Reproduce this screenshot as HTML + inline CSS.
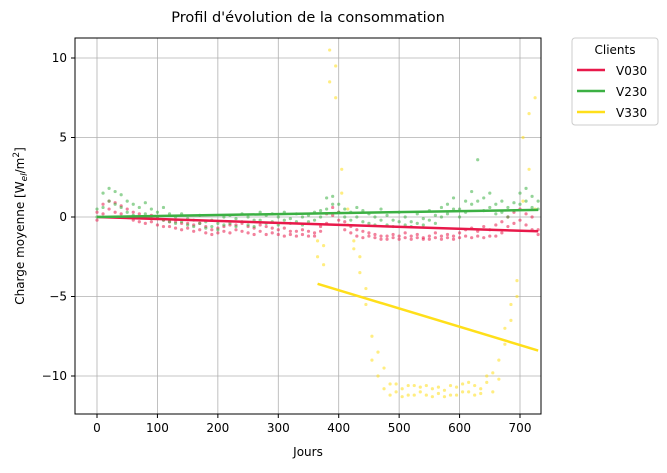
<!DOCTYPE html>
<html><head><meta charset="utf-8"><style>
body{margin:0;background:#fff;}
svg{font-family:"DejaVu Sans","Liberation Sans",sans-serif;}
</style></head><body>
<svg id="chart" width="667" height="468" viewBox="0 0 667 468" xmlns="http://www.w3.org/2000/svg">
<text x="308" y="22" text-anchor="middle" font-size="14.5">Profil d'évolution de la consommation</text>
<g id="grid"></g>
<g id="pts"></g>
<g id="trends"></g>
<rect x="75" y="38" width="466" height="376" fill="none" stroke="#000" stroke-width="1"/>
<g id="ticks" font-size="12"></g>
<text x="308" y="456" text-anchor="middle" font-size="12">Jours</text>
<text transform="translate(24,226) rotate(-90)" text-anchor="middle" font-size="12">Charge moyenne [W<tspan font-style="italic" font-size="9" dy="3">el</tspan><tspan dy="-3">/m</tspan><tspan font-size="9" dy="-5">2</tspan><tspan dy="5">]</tspan></text>
<g>
<rect x="572" y="38" width="86" height="87" rx="3" fill="#fff" stroke="#ccc"/>
<text x="615" y="54" text-anchor="middle" font-size="12">Clients</text>
<g><line x1="577" y1="70" x2="605" y2="70" stroke="#e8194a" stroke-width="2.5"/><text x="616" y="75" font-size="12">V030</text></g>
<g><line x1="577" y1="91" x2="605" y2="91" stroke="#3cb043" stroke-width="2.5"/><text x="616" y="96" font-size="12">V230</text></g>
<g><line x1="577" y1="112" x2="605" y2="112" stroke="#ffdf1a" stroke-width="2.5"/><text x="616" y="117" font-size="12">V330</text></g>
</g>
</svg>
<script>
const xTicks=[0,100,200,300,400,500,600,700];
const yTicks=[10,5,0,-5,-10];
const yTickLabels=["10","5","0","−5","−10"];
const daysMain=[0,10,20,30,40,50,60,70,80,90,100,110,120,130,140,150,160,170,180,190,200,210,220,230,240,250,260,270,280,290,300,310,320,330,340,350,360,370,380,390,400,410,420,430,440,450,460,470,480,490,500,510,520,530,540,550,560,570,580,590,600,610,620,630,640,650,660,670,680,690,700,710,720,730];
const v030a=[0.3,0.8,1.0,0.9,0.7,0.5,0.3,0.2,0.0,0.1,-0.1,-0.2,-0.3,-0.3,-0.4,-0.4,-0.5,-0.4,-0.6,-0.8,-0.7,-0.6,-0.5,-0.5,-0.4,-0.6,-0.7,-0.5,-0.6,-0.7,-0.8,-0.7,-0.9,-0.9,-0.8,-0.9,-1.0,-0.6,0.2,0.6,0.3,-0.3,-0.6,-0.8,-0.9,-1.0,-1.1,-1.2,-1.2,-1.1,-1.2,-1.0,-1.2,-1.1,-1.3,-1.2,-1.0,-1.2,-1.1,-1.2,-1.0,-0.8,-0.7,-0.9,-0.6,-0.8,-0.5,-0.3,0.0,0.3,0.5,0.2,0.0,-0.8];
const v030b=[-0.2,0.2,0.5,0.3,0.2,0.0,-0.2,-0.3,-0.4,-0.3,-0.5,-0.6,-0.6,-0.7,-0.8,-0.7,-0.9,-0.8,-1.0,-1.1,-1.0,-0.9,-1.0,-0.8,-0.9,-1.0,-1.1,-0.9,-1.1,-1.0,-1.1,-1.2,-1.1,-1.2,-1.1,-1.2,-1.2,-0.9,-0.4,0.1,-0.2,-0.8,-1.0,-1.2,-1.3,-1.2,-1.3,-1.4,-1.4,-1.3,-1.4,-1.3,-1.4,-1.3,-1.4,-1.4,-1.3,-1.4,-1.3,-1.4,-1.3,-1.2,-1.3,-1.2,-1.3,-1.2,-1.2,-1.0,-0.6,-0.4,-0.2,-0.5,-0.8,-1.1];
const v230a=[0.5,1.5,1.8,1.6,1.4,1.0,0.8,0.6,0.9,0.5,0.3,0.6,0.2,0.0,0.2,-0.1,-0.2,0.1,-0.3,-0.2,-0.4,0.0,0.1,-0.1,0.2,0.0,-0.2,0.3,0.1,0.2,0.0,0.3,-0.1,0.2,0.0,0.1,0.3,0.4,1.2,1.3,0.8,0.5,0.3,0.6,0.4,0.2,0.0,0.5,0.1,-0.2,0.3,0.0,-0.3,0.2,-0.1,0.4,0.1,0.6,0.8,1.2,0.5,1.0,1.6,3.6,1.2,1.5,0.8,1.0,0.6,0.9,1.5,1.8,1.3,1.0];
const v230b=[0.0,0.6,1.0,0.8,0.6,0.3,0.1,0.0,0.2,-0.1,0.0,-0.2,-0.3,-0.4,-0.3,-0.5,-0.6,-0.4,-0.7,-0.6,-0.8,-0.5,-0.4,-0.6,-0.3,-0.5,-0.6,-0.2,-0.4,-0.3,-0.5,-0.2,-0.4,-0.3,-0.5,-0.3,-0.2,0.0,0.5,0.8,0.3,0.0,-0.2,0.0,-0.3,-0.4,-0.5,-0.2,-0.5,-0.6,-0.3,-0.5,-0.6,-0.4,-0.5,-0.2,-0.4,0.0,0.2,0.5,0.0,0.3,0.8,1.0,0.4,0.6,0.2,0.3,0.0,0.4,0.8,1.0,0.6,0.5];
const daysV330=[365,375,385,395,405,415,425,435,445,455,465,475,485,495,505,515,525,535,545,555,565,575,585,595,605,615,625,635,645,655,665,675,685,695,705,715,725];
const v330a=[-1.5,-1.8,8.5,9.5,3.0,0.5,-1.5,-2.5,-4.5,-7.5,-8.5,-9.5,-10.5,-11.0,-10.8,-11.2,-10.6,-11.0,-11.2,-10.8,-11.1,-10.9,-11.2,-10.7,-10.5,-11.0,-10.6,-11.1,-10.4,-9.8,-9.0,-7.0,-5.5,-4.0,5.0,6.5,7.5];
const v330b=[-2.5,-3.0,10.5,7.5,1.5,-0.5,-2.0,-3.5,-5.5,-9.0,-10.0,-10.8,-11.2,-10.5,-11.3,-10.6,-11.2,-10.7,-10.6,-11.3,-10.7,-11.3,-10.6,-11.2,-11.0,-10.4,-11.2,-10.8,-10.0,-11.0,-10.2,-8.0,-6.5,-5.0,1.0,3.0,0.5];
const trendDays=[[0,730],[0,730],[365,730]];
const trendVals=[[0.0,-0.9],[0.0,0.45],[-4.2,-8.4]];
const colors=["#e8194a","#3cb043","#ffdf1a"];
const NS="http://www.w3.org/2000/svg";
const xs=d=>97+d*(423/700);
const ys=v=>217-v*15.9;
function mk(tag,attrs,parent){const e=document.createElementNS(NS,tag);for(const k in attrs)e.setAttribute(k,attrs[k]);parent.appendChild(e);return e;}
const grid=document.getElementById('grid'),ticks=document.getElementById('ticks'),pts=document.getElementById('pts'),tr=document.getElementById('trends');
xTicks.forEach(t=>{
  const l=mk('line',{x1:xs(t),x2:xs(t),y1:38,y2:414,stroke:'#b0b0b0','stroke-width':0.8},grid);
  
  
  mk('line',{x1:xs(t),x2:xs(t),y1:414,y2:418,stroke:'#000'},ticks);
  const tx=mk('text',{x:xs(t),y:432,'text-anchor':'middle'},ticks);tx.textContent=t;
  
  
});
yTicks.forEach((t,i)=>{
  const l=mk('line',{x1:75,x2:541,y1:ys(t),y2:ys(t),stroke:'#b0b0b0','stroke-width':0.8},grid);
  
  
  mk('line',{x1:71,x2:75,y1:ys(t),y2:ys(t),stroke:'#000'},ticks);
  const tx=mk('text',{x:67,y:ys(t)+4,'text-anchor':'end'},ticks);tx.textContent=yTickLabels[i];
  
  
});
function scatter(days,vals,c,name){
  vals.forEach((v,i)=>{
    const p=mk('circle',{cx:xs(days[i]),cy:ys(v),r:1.6,fill:c,opacity:0.55},pts);
    
    
  });
}
scatter(daysV330,v330a,colors[2],'point-v330');scatter(daysV330,v330b,colors[2],'point-v330');
scatter(daysMain,v030a,colors[0],'point-v030');scatter(daysMain,v030b,colors[0],'point-v030');
scatter(daysMain,v230a,colors[1],'point-v230');scatter(daysMain,v230b,colors[1],'point-v230');
const tn=['trend-v030','trend-v230','trend-v330'];
[2,0,1].forEach(k=>{
  const l=mk('line',{x1:xs(trendDays[k][0]),y1:ys(trendVals[k][0]),x2:xs(trendDays[k][1]),y2:ys(trendVals[k][1]),stroke:colors[k],'stroke-width':2.5},tr);
  
  
});
</script>
</body></html>
